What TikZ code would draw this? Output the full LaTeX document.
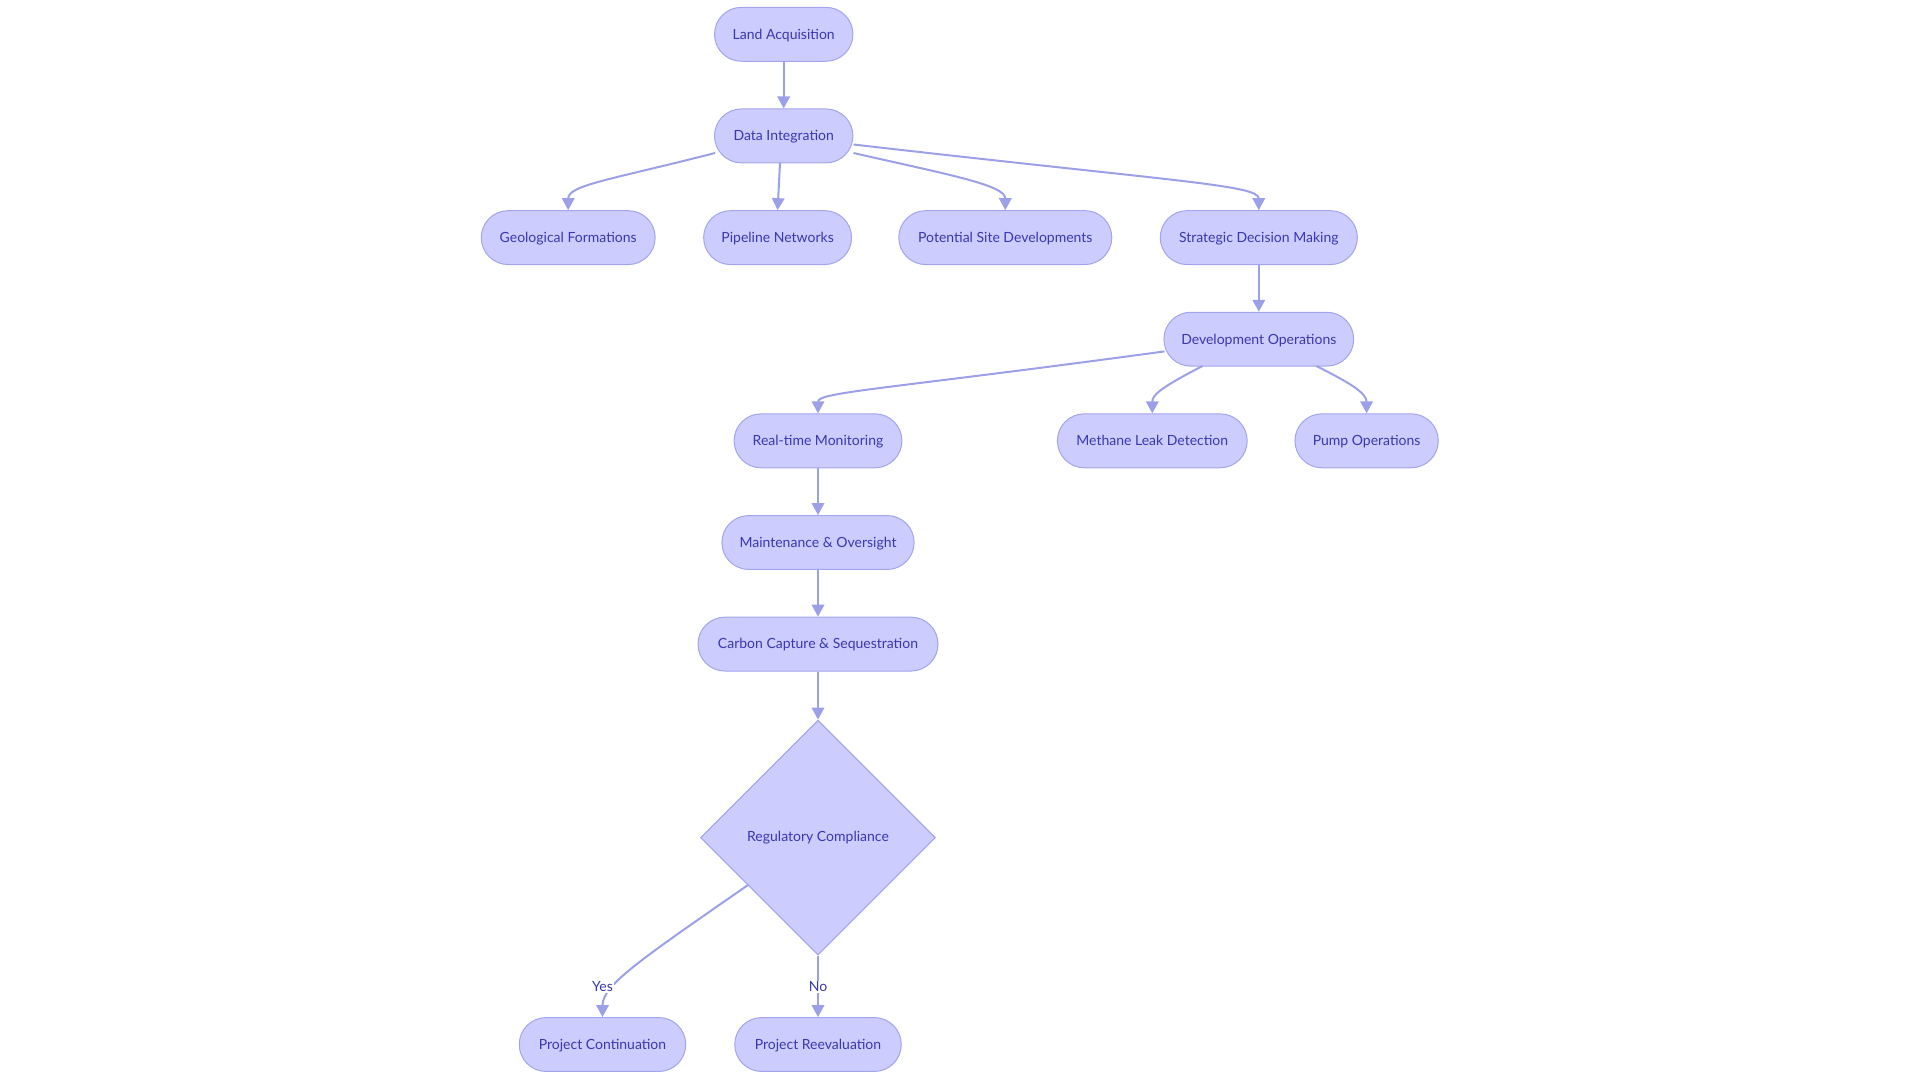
\documentclass[tikz,border=0pt]{standalone}
\usepackage{fontspec}
\setmainfont{Lato}
\usetikzlibrary{arrows.meta,shapes.geometric}
\definecolor{nodefill}{HTML}{CCCCFF}
\definecolor{nodeline}{HTML}{A3A5EC}
\definecolor{nodetext}{HTML}{3838B0}
\definecolor{edgecol}{HTML}{9CA0E8}
\tikzset{
  pill/.style={draw=nodeline, fill=nodefill, line width=1pt, rectangle, rounded corners=26.9pt,
    minimum height=53.9pt, inner sep=0pt, text height=11pt, text depth=1.4pt, text=nodetext, font=\fontsize{14}{16}\selectfont},
  decision/.style={draw=nodeline, fill=nodefill, line width=1pt, diamond, aspect=1,
    minimum width=235pt, minimum height=235pt, inner sep=0pt, text=nodetext, font=\fontsize{14}{16}\selectfont},
  link/.style={draw=edgecol, line width=2pt, -{Triangle[length=12pt,width=12.5pt]}},
  elabel/.style={fill=white, inner sep=1pt, text=nodetext, font=\fontsize{14}{16}\selectfont}
}
\begin{document}
\begin{tikzpicture}[x=1pt,y=-1pt]
\useasboundingbox (0,0) rectangle (1920,1080);
\node[pill, minimum width=138.4pt] (la) at (783.7,34.3) {Land Acquisition};
\node[pill, minimum width=138.4pt] (di) at (783.7,135.9) {Data Integration};
\node[pill, minimum width=173.9pt] (geo) at (568.2,237.6) {Geological Formations};
\node[pill, minimum width=147.9pt] (pipe) at (777.6,237.6) {Pipeline Networks};
\node[pill, minimum width=213pt] (pot) at (1005.3,237.6) {Potential Site Developments};
\node[pill, minimum width=197.1pt] (sdm) at (1258.8,237.6) {Strategic Decision Making};
\node[pill, minimum width=189.8pt] (dev) at (1258.8,339.2) {Development Operations};
\node[pill, minimum width=167.8pt] (rtm) at (818,440.8) {Real-time Monitoring};
\node[pill, minimum width=189.8pt] (mld) at (1152.3,440.8) {Methane Leak Detection};
\node[pill, minimum width=143.3pt] (pump) at (1366.6,440.8) {Pump Operations};
\node[pill, minimum width=192.2pt] (mo) at (818,542.5) {Maintenance \& Oversight};
\node[pill, minimum width=240pt] (ccs) at (818,644.1) {Carbon Capture \& Sequestration};
\node[decision] (rc) at (818,837.6) {Regulatory Compliance};
\node[pill, minimum width=166.5pt] (pc) at (602.5,1044.5) {Project Continuation};
\node[pill, minimum width=166.5pt] (pr) at (818,1044.5) {Project Reevaluation};

\coordinate (diL) at (715,153);
\coordinate (diB) at (780,163);
\coordinate (diR1) at (853.5,153);
\coordinate (diR2) at (853.5,144.5);
\coordinate (devL) at (1164.5,351.4);
\coordinate (devB1) at (1202.5,366);
\coordinate (devB2) at (1316.4,366);
\coordinate (rcL) at (748,885);

\draw[link] (la) -- (di);
\draw[link] (diL) .. controls (610,180) and (568.2,185) .. (geo.north);
\draw[link] (diB) -- (pipe.north);
\draw[link] (diR1) .. controls (950,175) and (1005.3,185) .. (pot.north);
\draw[link] (diR2) .. controls (1180,182) and (1258.8,185) .. (sdm.north);
\draw[link] (sdm) -- (dev);
\draw[link] (devL) .. controls (880,390) and (818,392) .. (rtm.north);
\draw[link] (devB1) .. controls (1160,388) and (1152.3,395) .. (mld.north);
\draw[link] (devB2) .. controls (1350,383) and (1366.6,393) .. (pump.north);
\draw[link] (rtm) -- (mo);
\draw[link] (mo) -- (ccs);
\draw[link] (ccs) -- (rc);
\draw[link] (rcL) .. controls (640,960) and (602.5,985) .. (pc.north);
\draw[link] (rc.south) -- (pr.north);
\node[elabel] (yes) at (602.5,987) {Yes};
\node[elabel] (no) at (818,987) {No};
\end{tikzpicture}
\end{document}
